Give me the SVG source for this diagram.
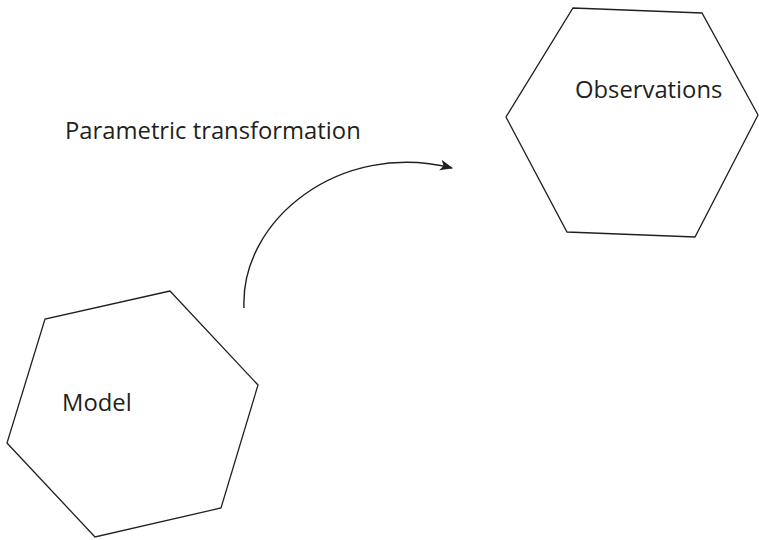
<svg xmlns="http://www.w3.org/2000/svg" width="759" height="540" viewBox="0 0 759 540">
<style>
.hex{fill:none;stroke:#231f20;stroke-width:1.3}
.lbl{font-family:"Open Sans","Liberation Sans",sans-serif;font-size:23.8px;fill:#231f20}
.conn{fill:none;stroke:#231f20;stroke-width:1.4}
</style>
<defs>
<marker id="ah" viewBox="0 0 12 10" refX="11" refY="5" markerWidth="13" markerHeight="11" markerUnits="userSpaceOnUse" orient="auto">
<path d="M0,0 L12,5 L0,10 L3,5 Z" fill="#231f20"/>
</marker>
</defs>
<rect width="759" height="540" fill="#fff"/>
<g id="observations">
<polygon class="hex" points="573,8 702,13 758,115 695,237 567,232 506,117"/>
<text class="lbl" x="575" y="98">Observations</text>
</g>
<g id="model">
<polygon class="hex" points="170,291 45,319 7,443 95,537 221,508 258,385"/>
<text class="lbl" x="62" y="411">Model</text>
</g>
<g id="connectors">
<path class="conn" d="M244,308 C240,220 340,140 452,168" marker-end="url(#ah)"/>
<text class="lbl" x="65" y="139">Parametric transformation</text>
</g>
</svg>
